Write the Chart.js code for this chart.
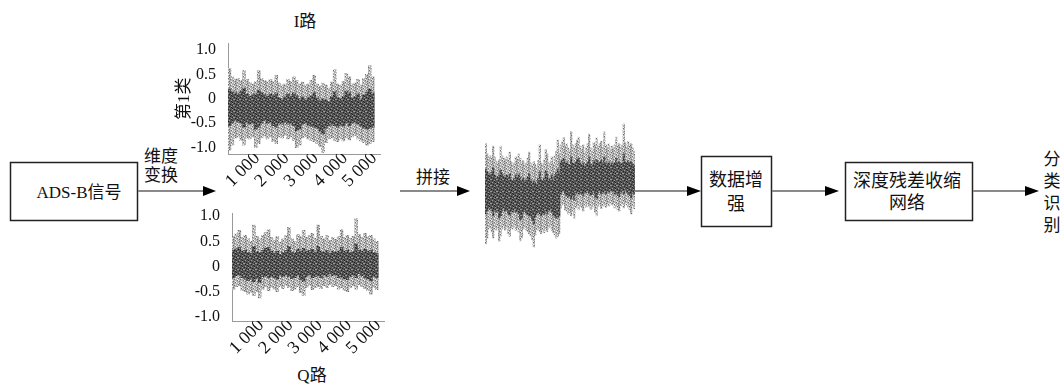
<!DOCTYPE html>
<html>
<head>
<meta charset="utf-8">
<script src="https://cdn.jsdelivr.net/npm/chart.js@4.4.1/dist/chart.umd.min.js"></script>
<style>
  body { margin: 0; background: #fff; }
  #stage { position: relative; width: 1062px; height: 386px; overflow: hidden; }
  #stage svg, #stage canvas { position: absolute; }
  svg text { font-family: "Liberation Serif", "Times New Roman", "Noto Sans CJK SC", serif; fill: #111; }
</style>
</head>
<body>
<div id="stage">
<svg width="1062" height="386" style="left:0;top:0">
  <!-- ADS-B 信号 -->
  <rect x="10.5" y="162.5" width="127" height="58" fill="none" stroke="#222" stroke-width="1.5"/>
  <text x="79" y="192" text-anchor="middle" dominant-baseline="central" font-size="17">ADS-B信号</text>
  <line x1="138" y1="191" x2="205" y2="191" stroke="#8a8a8a" stroke-width="2"/>
  <polygon points="203,186 216,191 203,196" fill="#000"/>
  <text x="161" y="156" text-anchor="middle" dominant-baseline="central" font-size="17">维度</text>
  <text x="161" y="175" text-anchor="middle" dominant-baseline="central" font-size="17">变换</text>

  <!-- 拼接 -->
  <text x="433" y="177" text-anchor="middle" dominant-baseline="central" font-size="17">拼接</text>
  <line x1="400" y1="191" x2="458" y2="191" stroke="#8a8a8a" stroke-width="2"/>
  <polygon points="457,186 470,191 457,196" fill="#000"/>

  <!-- 数据增强 -->
  <line x1="635" y1="191" x2="689" y2="191" stroke="#8a8a8a" stroke-width="2"/>
  <polygon points="687,186 701,191 687,196" fill="#000"/>
  <rect x="701.5" y="156.5" width="70" height="70" fill="none" stroke="#222" stroke-width="1.5"/>
  <text x="736" y="180" text-anchor="middle" dominant-baseline="central" font-size="18">数据增</text>
  <text x="736" y="204" text-anchor="middle" dominant-baseline="central" font-size="18">强</text>

  <!-- 深度残差收缩网络 -->
  <line x1="772" y1="191" x2="827" y2="191" stroke="#8a8a8a" stroke-width="2"/>
  <polygon points="825,186 839,191 825,196" fill="#000"/>
  <rect x="845.5" y="162.5" width="127" height="58" fill="none" stroke="#222" stroke-width="1.5"/>
  <text x="907" y="181" text-anchor="middle" dominant-baseline="central" font-size="18">深度残差收缩</text>
  <text x="907" y="203" text-anchor="middle" dominant-baseline="central" font-size="18">网络</text>

  <!-- 分类识别 -->
  <line x1="973" y1="191" x2="1027" y2="191" stroke="#8a8a8a" stroke-width="2"/>
  <polygon points="1025,186 1039,191 1025,196" fill="#000"/>
  <text x="1052" y="159" text-anchor="middle" dominant-baseline="central" font-size="17">分</text>
  <text x="1052" y="181" text-anchor="middle" dominant-baseline="central" font-size="17">类</text>
  <text x="1052" y="203" text-anchor="middle" dominant-baseline="central" font-size="17">识</text>
  <text x="1052" y="225" text-anchor="middle" dominant-baseline="central" font-size="17">别</text>

  <!-- 路名 -->
  <text x="305" y="21" text-anchor="middle" dominant-baseline="central" font-size="17">I路</text>
  <text x="312" y="375" text-anchor="middle" dominant-baseline="central" font-size="17">Q路</text>
</svg>
<canvas id="chart_i" width="221" height="175" style="left:174px;top:30px"></canvas>
<canvas id="chart_q" width="215" height="168" style="left:184px;top:200px"></canvas>
<canvas id="chart_cat" width="150" height="150" style="left:485px;top:110px"></canvas>
</div>

<script>
// Señales I/Q: 50 tramos de 100 muestras, envolvente exterior y núcleo denso
const binCenters = [];
for (let k = 0; k < 50; k++) binCenters.push(50 + k * 100);

const xTicks = [1000, 2000, 3000, 4000, 5000];
const yTicks = [-1.0, -0.5, 0, 0.5, 1.0];

// I路 (第1类)
const iHi = [0.62, 0.45, 0.40, 0.42, 0.38, 0.58, 0.40, 0.33, 0.30, 0.35,
             0.58, 0.42, 0.38, 0.35, 0.40, 0.36, 0.48, 0.32, 0.28, 0.30,
             0.40, 0.36, 0.45, 0.38, 0.30, 0.34, 0.28, 0.30, 0.38, 0.48,
             0.30, 0.26, 0.32, 0.28, 0.22, 0.34, 0.60, 0.30, 0.28, 0.35,
             0.52, 0.45, 0.30, 0.32, 0.40, 0.28, 0.42, 0.50, 0.68, 0.45];
const iLo = [-1.05, -0.95, -0.80, -0.78, -0.85, -0.95, -0.80, -0.82, -0.78, -1.00,
             -0.92, -0.80, -0.76, -0.82, -0.78, -0.88, -0.92, -0.78, -0.80, -0.75,
             -0.82, -0.78, -0.85, -1.00, -0.95, -0.80, -0.78, -0.82, -0.85, -0.88,
             -0.92, -0.98, -1.10, -0.90, -0.82, -0.80, -0.85, -0.88, -0.82, -0.86,
             -0.80, -0.84, -0.78, -0.75, -0.82, -0.86, -0.90, -0.95, -0.92, -0.88];
const iCoreHi = [0.20, 0.15, 0.12, 0.10, 0.15, 0.22, 0.10, 0.05, 0.08, 0.10,
                 0.18, 0.12, 0.08, 0.05, 0.10, 0.06, 0.12, 0.02, 0.00, 0.04,
                 0.10, 0.05, 0.12, 0.06, 0.00, 0.04, -0.02, 0.02, 0.06, 0.12,
                 0.02, -0.04, 0.00, -0.02, -0.06, 0.04, 0.15, 0.02, 0.00, 0.05,
                 0.16, 0.12, 0.02, 0.04, 0.10, 0.00, 0.08, 0.14, 0.20, 0.12];
const iCoreLo = [-0.55, -0.50, -0.45, -0.48, -0.50, -0.58, -0.48, -0.52, -0.50, -0.62,
                 -0.58, -0.50, -0.45, -0.50, -0.48, -0.55, -0.58, -0.50, -0.52, -0.48,
                 -0.52, -0.50, -0.55, -0.65, -0.62, -0.52, -0.50, -0.54, -0.56, -0.58,
                 -0.60, -0.66, -0.72, -0.60, -0.55, -0.52, -0.55, -0.58, -0.54, -0.56,
                 -0.50, -0.55, -0.50, -0.48, -0.52, -0.56, -0.60, -0.62, -0.60, -0.58];

// Q路
const qHi = [0.60, 0.65, 0.72, 0.58, 0.62, 0.55, 0.50, 0.82, 0.60, 0.55,
             0.62, 0.68, 0.73, 0.58, 0.52, 0.60, 0.48, 0.55, 0.62, 0.78,
             0.55, 0.50, 0.64, 0.60, 0.72, 0.58, 0.62, 0.66, 0.56, 0.82,
             0.60, 0.55, 0.62, 0.52, 0.58, 0.54, 0.60, 0.73, 0.58, 0.62,
             0.56, 0.60, 0.95, 0.64, 0.58, 0.66, 0.60, 0.62, 0.55, 0.50];
const qLo = [-0.45, -0.40, -0.38, -0.48, -0.50, -0.55, -0.52, -0.58, -0.50, -0.62,
             -0.45, -0.40, -0.48, -0.42, -0.45, -0.50, -0.40, -0.44, -0.38, -0.42,
             -0.48, -0.45, -0.40, -0.52, -0.58, -0.42, -0.38, -0.46, -0.42, -0.40,
             -0.44, -0.38, -0.42, -0.36, -0.40, -0.38, -0.45, -0.42, -0.48, -0.50,
             -0.42, -0.38, -0.45, -0.36, -0.40, -0.44, -0.48, -0.55, -0.42, -0.46];
const qCoreHi = [0.32, 0.35, 0.38, 0.30, 0.32, 0.28, 0.26, 0.40, 0.30, 0.28,
                 0.32, 0.36, 0.38, 0.30, 0.26, 0.30, 0.24, 0.28, 0.32, 0.40,
                 0.28, 0.26, 0.34, 0.30, 0.36, 0.30, 0.32, 0.34, 0.28, 0.40,
                 0.30, 0.28, 0.32, 0.26, 0.30, 0.28, 0.30, 0.38, 0.30, 0.32,
                 0.28, 0.30, 0.45, 0.32, 0.30, 0.34, 0.30, 0.32, 0.28, 0.26];
const qCoreLo = [-0.22, -0.18, -0.16, -0.22, -0.25, -0.28, -0.25, -0.30, -0.24, -0.32,
                 -0.20, -0.18, -0.22, -0.20, -0.22, -0.25, -0.18, -0.20, -0.16, -0.20,
                 -0.24, -0.22, -0.18, -0.26, -0.30, -0.20, -0.16, -0.22, -0.20, -0.18,
                 -0.22, -0.16, -0.20, -0.14, -0.18, -0.16, -0.22, -0.20, -0.24, -0.26,
                 -0.20, -0.16, -0.22, -0.14, -0.18, -0.22, -0.24, -0.28, -0.20, -0.22];

const FAMILY = '"Liberation Serif", "Times New Roman", "Noto Sans CJK SC", serif';

// Textura punteada fija (sin aleatorio) para imitar la nube de puntos
function stipple(base, dark, light, rows) {
    const c = document.createElement('canvas');
    c.width = rows[0].length; c.height = rows.length;
    const g = c.getContext('2d');
    g.fillStyle = base; g.fillRect(0, 0, c.width, c.height);
    rows.forEach((r, y) => {
        for (let x = 0; x < r.length; x++) {
            if (r[x] === '#') { g.fillStyle = dark; g.fillRect(x, y, 1, 1); }
            if (r[x] === 'o') { g.fillStyle = light; g.fillRect(x, y, 1, 1); }
        }
    });
    return g.createPattern(c, 'repeat');
}
const OUTER = stipple('#b2b2b2', '#6e6e6e', '#f0f0f0',
    ['#..o..', '..#..o', 'o....#', '.#.o..', '...#o.', 'o#....']);
const CORE = stipple('#555555', '#222222', '#9a9a9a',
    ['.o..#.', '#...o.', '..#...', 'o...#o', '.#.o..', '...#..']);

function bands(xs, hi, lo, coreHi, coreLo) {
    // núcleo primero para que quede encima
    return [
        { data: xs.map((x, k) => ({ x: x, y: [coreLo[k], coreHi[k]] })), backgroundColor: CORE,
          grouped: false, barPercentage: 1, categoryPercentage: 1, borderWidth: 0 },
        { data: xs.map((x, k) => ({ x: x, y: [lo[k], hi[k]] })), backgroundColor: OUTER,
          grouped: false, barPercentage: 1, categoryPercentage: 1, borderWidth: 0 }
    ];
}

function signalChart(id, hi, lo, coreHi, coreLo, yMin, yMax, padTop, yWidth, xHeight, yTitle) {
    return new Chart(document.getElementById(id), {
        type: 'bar',
        data: { datasets: bands(binCenters, hi, lo, coreHi, coreLo) },
        options: {
            responsive: false,
            animation: false,
            layout: { padding: { top: padTop, right: 15, left: 0, bottom: 0 } },
            plugins: { legend: { display: false }, tooltip: { enabled: false } },
            scales: {
                x: {
                    type: 'linear', min: 0, max: 5200, offset: false,
                    grid: { display: false },
                    border: { display: true, color: '#999', dash: [1, 2], width: 1 },
                    afterBuildTicks: s => { s.ticks = xTicks.map(v => ({ value: v })); },
                    afterFit: s => { s.height = xHeight; },
                    ticks: {
                        autoSkip: false, minRotation: 45, maxRotation: 45, padding: -14,
                        color: '#111', font: { family: FAMILY, size: 18 },
                        callback: v => (v / 1000) + ' 000'
                    }
                },
                y: {
                    min: yMin, max: yMax,
                    grid: { display: false },
                    border: { display: true, color: '#999', dash: [1, 2], width: 1 },
                    afterBuildTicks: s => { s.ticks = yTicks.map(v => ({ value: v })); },
                    afterFit: s => { s.width = yWidth; },
                    title: { display: !!yTitle, text: yTitle, color: '#111', padding: 0,
                             font: { family: FAMILY, size: 17 } },
                    ticks: {
                        padding: 4, color: '#111', font: { family: FAMILY, size: 16 },
                        callback: v => v === 0 ? '0' : v.toFixed(1)
                    }
                }
            }
        }
    });
}

const chartI = signalChart('chart_i', iHi, iLo, iCoreHi, iCoreLo, -1.13, 1.13, 13, 54, 51, '第1类');
const chartQ = signalChart('chart_q', qHi, qLo, qCoreHi, qCoreLo, -1.08, 1.05, 10, 48, 47, '');

// Señal concatenada: I seguido de Q
const catCenters = binCenters.concat(binCenters.map(x => x + 5000));
const chartCat = new Chart(document.getElementById('chart_cat'), {
    type: 'bar',
    data: {
        datasets: bands(catCenters, iHi.concat(qHi), iLo.concat(qLo),
                        iCoreHi.concat(qCoreHi), iCoreLo.concat(qCoreLo))
    },
    options: {
        responsive: false,
        animation: false,
        layout: { padding: 0 },
        plugins: { legend: { display: false }, tooltip: { enabled: false } },
        scales: {
            x: { type: 'linear', min: 0, max: 10000, offset: false, display: false },
            y: { min: -1.317, max: 1.183, display: false }
        }
    }
});
</script>
</body>
</html>
